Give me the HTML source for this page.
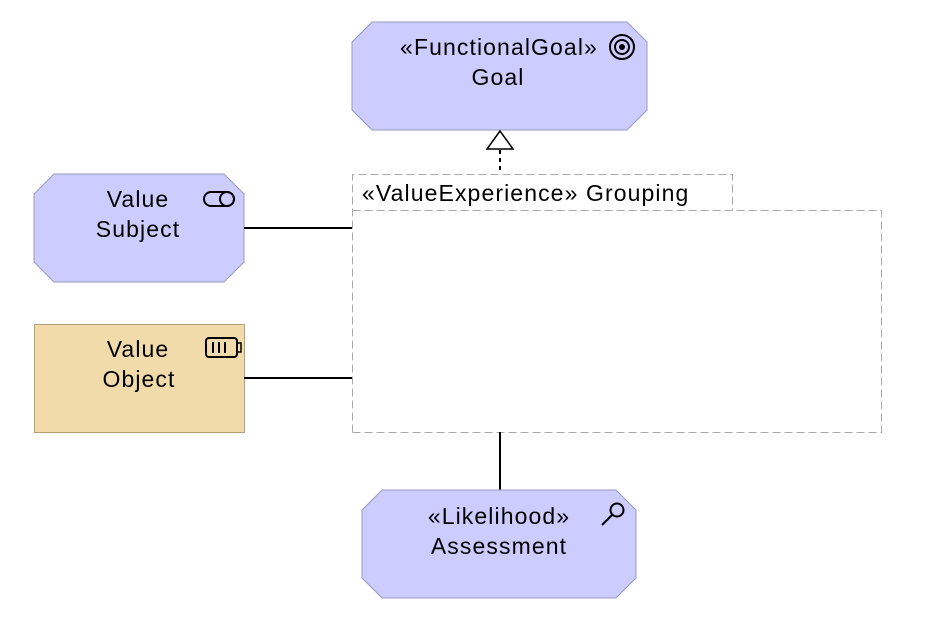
<!DOCTYPE html>
<html><head><style>html,body{margin:0;padding:0;background:#fff}svg{display:block}text{font-family:"Liberation Sans",sans-serif;font-size:23px;letter-spacing:1.1px;fill:#000}</style></head>
<body>
<svg width="926" height="635" viewBox="0 0 926 635" xmlns="http://www.w3.org/2000/svg">
<polygon points="372,22 627,22 647,42 647,110 627,130 372,130 352,110 352,42" fill="#ccccff" stroke="#9a9ac0" stroke-width="1"/>
<text x="499" y="55" text-anchor="middle">«FunctionalGoal»</text>
<text x="498" y="85" text-anchor="middle">Goal</text>
<circle cx="622" cy="47" r="12" fill="none" stroke="#000" stroke-width="2"/>
<circle cx="622" cy="47" r="7" fill="none" stroke="#000" stroke-width="2"/>
<circle cx="622" cy="47" r="3" fill="#000"/>
<line x1="500" y1="150" x2="500" y2="174" stroke="#000" stroke-width="2" stroke-dasharray="4,4"/>
<polygon points="500,131 487,149 513,149" fill="#fff" stroke="#000" stroke-width="1.5"/>
<polygon points="54,174 224,174 244,194 244,262 224,282 54,282 34,262 34,194" fill="#ccccff" stroke="#9a9ac0" stroke-width="1"/>
<text x="138" y="207" text-anchor="middle">Value</text>
<text x="138" y="237" text-anchor="middle">Subject</text>
<rect x="204" y="192" width="30" height="14" rx="7" fill="none" stroke="#000" stroke-width="2"/>
<circle cx="227" cy="199" r="7" fill="none" stroke="#000" stroke-width="2"/>
<rect x="34.5" y="324.5" width="210" height="108" fill="#f2dbaa" stroke="#b0a07a" stroke-width="1"/>
<text x="138" y="357" text-anchor="middle">Value</text>
<text x="139" y="387" text-anchor="middle">Object</text>
<rect x="206" y="338" width="31" height="19" rx="3" fill="none" stroke="#000" stroke-width="2"/>
<rect x="237" y="343" width="4" height="9" fill="none" stroke="#000" stroke-width="1.5"/>
<line x1="213" y1="342" x2="213" y2="353" stroke="#000" stroke-width="2"/>
<line x1="219" y1="342" x2="219" y2="353" stroke="#000" stroke-width="2"/>
<line x1="225" y1="342" x2="225" y2="353" stroke="#000" stroke-width="2"/>
<path d="M352.5,432.5 V174.5 H732.5 V210.5 M352.5,210.5 H881.5 V432.5 H352.5" fill="none" stroke="#aaa" stroke-width="1" stroke-dasharray="8,4"/>
<text x="362" y="201">«ValueExperience» Grouping</text>
<line x1="244" y1="228" x2="352" y2="228" stroke="#000" stroke-width="2"/>
<line x1="244" y1="378" x2="352" y2="378" stroke="#000" stroke-width="2"/>
<line x1="500" y1="432" x2="500" y2="490" stroke="#000" stroke-width="2"/>
<polygon points="382,490 616,490 636,510 636,578 616,598 382,598 362,578 362,510" fill="#ccccff" stroke="#9a9ac0" stroke-width="1"/>
<text x="499" y="524" text-anchor="middle">«Likelihood»</text>
<text x="499" y="554" text-anchor="middle">Assessment</text>
<circle cx="617" cy="510" r="6.5" fill="none" stroke="#000" stroke-width="2"/>
<line x1="612" y1="515" x2="602" y2="525" stroke="#000" stroke-width="2"/>
</svg>
</body></html>
